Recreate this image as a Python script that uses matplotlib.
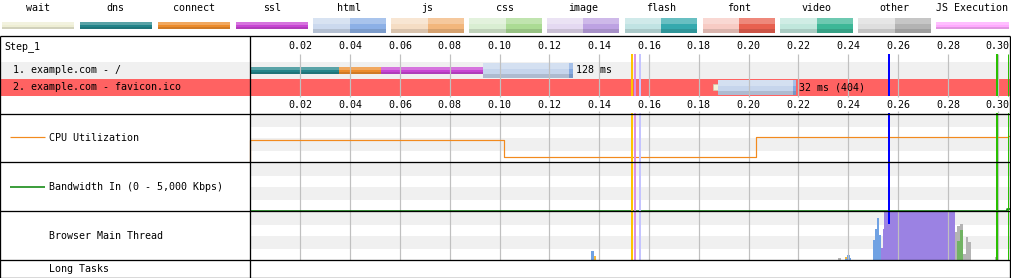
import numpy as np
import matplotlib.pyplot as plt
from matplotlib.colors import to_rgb

W, H = 1012, 278

# legend
legend_names = ['wait', 'dns', 'connect', 'ssl', 'html', 'js', 'css', 'image',
                'flash', 'font', 'video', 'other', 'JS Execution']
legend_light = ['#eeeed4', '#23848a', '#ec8b2a', '#c845d3', '#cbd9ee', '#f5ddc4',
                '#d9eed2', '#e4d9f1', '#c0e3e3', '#f7cbc4', '#c0e7dc', '#dedede', '#ffaaff']
legend_dark = [None, None, None, None, '#8cb0e6', '#f2b67c', '#abdb94', '#bda2e2',
               '#35a9ae', '#e8604f', '#3db797', '#b3b3b3', None]

tick_values = np.round(np.arange(0.02, 0.301, 0.02), 2)

# requests
req_labels = ['1. example.com - /', '2. example.com - favicon.ico']
req_time_labels = ['128 ms', '32 ms (404)']
req_wait = [None, (0.1856, 0.1878)]
req_dns = [(0.0, 0.0355), None]
req_connect = [(0.0355, 0.0524), None]
req_ssl = [(0.0524, 0.0932), None]
req_ttfb = [(0.0932, 0.1280), (0.1878, 0.2179)]
req_download = [(0.1280, 0.1294), (0.2179, 0.2190)]

# page events
event_times = [0.1532, 0.1544, 0.1564, 0.2562, 0.2998, 0.3043]
event_colors = ['#ffc400', '#d98fe6', '#c4c4ff', '#0000ff', '#28c000', '#28c000']

# cpu utilization (%)
cpu_t = [0.0, 0.0, 0.1019, 0.2031, 0.3040, 0.3050]
cpu_v = [0, 45, 10, 51, 53, 53]

# bandwidth in (Kbps)
bw_t = [0.0, 0.3036, 0.3050]
bw_v = [70, 200, 200]

# browser main thread (% busy per slice)
mt_start = [0.1367, 0.1379, 0.2359, 0.2387, 0.2395, 0.2407, 0.2499, 0.2507, 0.2515, 0.2523,
            0.2531, 0.2539, 0.2543, 0.2829, 0.2837, 0.2849, 0.2861, 0.2873, 0.2881, 0.2989]
mt_end = [0.1379, 0.1387, 0.2371, 0.2395, 0.2407, 0.2411, 0.2507, 0.2515, 0.2523, 0.2531,
          0.2539, 0.2543, 0.2829, 0.2837, 0.2849, 0.2861, 0.2873, 0.2881, 0.2893, 0.2997]
mt_parse = [18, 0, 0, 3, 11, 4, 41, 64, 86, 52, 0, 0, 0, 0, 0, 0, 0, 0, 0, 0]
mt_script = [0, 9, 0, 3, 0, 0, 0, 0, 0, 0, 0, 0, 0, 0, 0, 0, 0, 0, 0, 0]
mt_layout = [0, 0, 0, 0, 0, 0, 0, 0, 0, 0, 26, 63, 100, 0, 0, 0, 0, 0, 0, 0]
mt_paint = [0, 0, 0, 0, 0, 0, 0, 0, 0, 0, 0, 0, 0, 0, 40, 62, 0, 0, 0, 0]
mt_other = [0, 0, 5, 0, 0, 0, 0, 0, 0, 0, 0, 0, 0, 58, 30, 12, 13, 47, 38, 7]
mt_colors = {'parse': '#70a2e3', 'script': '#f2b93d', 'layout': '#9b82e3',
             'paint': '#71b363', 'other': '#b4b4b4'}

plt.rcParams['font.family'] = 'DejaVu Sans Mono'
plt.rcParams['font.size'] = 7.2
PX = 0.72  # one pixel in points

fig = plt.figure(figsize=(W / 100, H / 100), dpi=100)


def px_axes(x0, y0, x1, y1, z):
    ax = fig.add_axes([x0 / W, 1 - y1 / H, (x1 - x0) / W, (y1 - y0) / H], zorder=z)
    ax.set_axis_off()
    ax.patch.set_alpha(0)
    return ax


def shade(c, f):
    rgb = np.array(to_rgb(c))
    return tuple(np.clip(rgb + f * (1 - rgb) if f > 0 else rgb * (1 + f), 0, 1))


def grad_bar(ax, y, x0, x1, h, color, **kw):
    # fake the glossy gradient with three strips (y axis is inverted)
    ax.barh(y, x1 - x0, left=x0, height=h, color=color, lw=0, **kw)
    ax.barh(y - h * 0.3, x1 - x0, left=x0, height=h * 0.4, color=shade(color, 0.25), lw=0)
    ax.barh(y + h * 0.38, x1 - x0, left=x0, height=h * 0.24, color=shade(color, -0.12), lw=0)


# background layer (pixel coords)
bg = px_axes(0, 0, W, H, 0)
bg.set_xlim(0, W)
bg.set_ylim(H, 0)
bg.axhspan(61.7, 78.7, xmin=0, xmax=1010 / W, color='#f0f0f0', lw=0)
bg.axhspan(78.7, 96, xmin=0, xmax=1010 / W, color='#ff6262', lw=0)

for i, name in enumerate(legend_names):
    x0 = 2 + i * 77.85
    bg.text(x0 + 36, 8, name, ha='center', va='center')
    if legend_dark[i] is None:
        grad_bar(bg, 25.5, x0, x0 + 72.5, 7, legend_light[i])
    else:
        grad_bar(bg, 25.5, x0, x0 + 36.5, 15, legend_light[i])
        grad_bar(bg, 25.5, x0 + 36.5, x0 + 72.5, 15, legend_dark[i])

# time scale shared by the chart region
t_left = (250 - 250.5) / 2490.7
t_right = (1010 - 250.5) / 2490.7

# waterfall
wf = px_axes(250, 36, 1010, 113.7, 1)
wf.set_xlim(t_left, t_right)
wf.set_ylim(77.7, 0)
wf.vlines(tick_values, 18, 61, color='#c0c0c0', lw=PX * 1.2)
wf.vlines(tick_values, 74.5, 77.7, color='#c0c0c0', lw=PX * 1.2)
for t in tick_values:
    wf.text(t, 10, f'{t:.2f}', ha='center', va='center')
    wf.text(t, 68.5, f'{t:.2f}', ha='center', va='center')

row_y = [34.4, 51.3]
for r in range(len(req_labels)):
    y = row_y[r]
    if req_wait[r]:
        wf.barh(y, req_wait[r][1] - req_wait[r][0], left=req_wait[r][0], height=6,
                color='#f4f2d8', edgecolor='#cfcdb0', lw=0.5)
    for ph, col in [(req_dns, legend_light[1]), (req_connect, legend_light[2]),
                    (req_ssl, legend_light[3])]:
        if ph[r]:
            grad_bar(wf, y, ph[r][0], ph[r][1], 6.7, col)
    grad_bar(wf, y, req_ttfb[r][0], req_ttfb[r][1], 15.5, '#c6d5ec')
    grad_bar(wf, y, req_download[r][0], req_download[r][1], 15.5, '#86aae0')
    wf.text(req_download[r][1] + 0.0014, y, req_time_labels[r], ha='left', va='center')

for t, c in zip(event_times, event_colors):
    wf.vlines(t, 18, 60, color=c, lw=PX * (1 if t > 0.303 else 2))

# graph sections
sections = [(113.3, 162.3, 100), (162.3, 211.3, 5000), (211.3, 260.3, 100)]
gax = []
for y0, y1, top in sections:
    a = px_axes(250, y0, 1010, y1, 1)
    a.set_xlim(t_left, t_right)
    a.set_ylim(0, top)
    a.axhspan(0.727 * top, top, color='#f0f0f0', lw=0)
    a.axhspan(0.237 * top, 0.496 * top, color='#f0f0f0', lw=0)
    a.vlines(tick_values, 0, 1, transform=a.get_xaxis_transform(), color='#c0c0c0', lw=PX * 1.2)
    gax.append(a)
cpu_ax, bw_ax, mt_ax = gax

cpu_ax.plot(cpu_t, cpu_v, drawstyle='steps-post', color='#f28a1e', lw=PX * 1.2, clip_on=False)
bw_ax.plot(bw_t, bw_v, drawstyle='steps-post', color='#008000', lw=PX * 1.5)

widths = np.array(mt_end) - np.array(mt_start)
bottom = np.zeros(len(mt_start))
for key, vals in [('parse', mt_parse), ('script', mt_script), ('layout', mt_layout),
                  ('paint', mt_paint), ('other', mt_other)]:
    mt_ax.bar(mt_start, vals, width=widths, bottom=bottom, align='edge',
              color=mt_colors[key], lw=0)
    bottom += np.array(vals)

for t, c in zip(event_times, event_colors):
    lw = PX * (1 if t > 0.303 else 2)
    cpu_ax.axvline(t, color=c, lw=lw)
    bw_ax.axvline(t, color=c, lw=lw)
    mt_ax.axvline(t, ymin=0.76 if c == '#0000ff' else 0, color=c, lw=lw)

# foreground: table borders and labels
fg = px_axes(0, 0, W, H, 2)
fg.set_xlim(0, W)
fg.set_ylim(H, 0)
for y in [36, 113.7, 162.3, 211.3, 260.3, 277.5]:
    fg.hlines(y, 0.5, 1010.3, color='black', lw=PX * 1.3)
for x in [0.5, 250.3, 1010.3]:
    fg.vlines(x, 36, 277.5, color='black', lw=PX * 1.3)

fg.text(4, 47, 'Step_1', ha='left', va='center')
for r, lab in enumerate(req_labels):
    fg.text(13, [70.2, 87.3][r], lab, ha='left', va='center')

fg.hlines(137.3, 10, 45, color='#f28a1e', lw=PX * 1.2)
fg.text(49, 138, 'CPU Utilization', ha='left', va='center')
fg.hlines(186.7, 10, 45, color='#008000', lw=PX * 1.5)
fg.text(49, 187, 'Bandwidth In (0 - 5,000 Kbps)', ha='left', va='center')
fg.text(49, 236, 'Browser Main Thread', ha='left', va='center')
fg.text(49, 269, 'Long Tasks', ha='left', va='center')

fig.savefig('out.png', dpi=100)
